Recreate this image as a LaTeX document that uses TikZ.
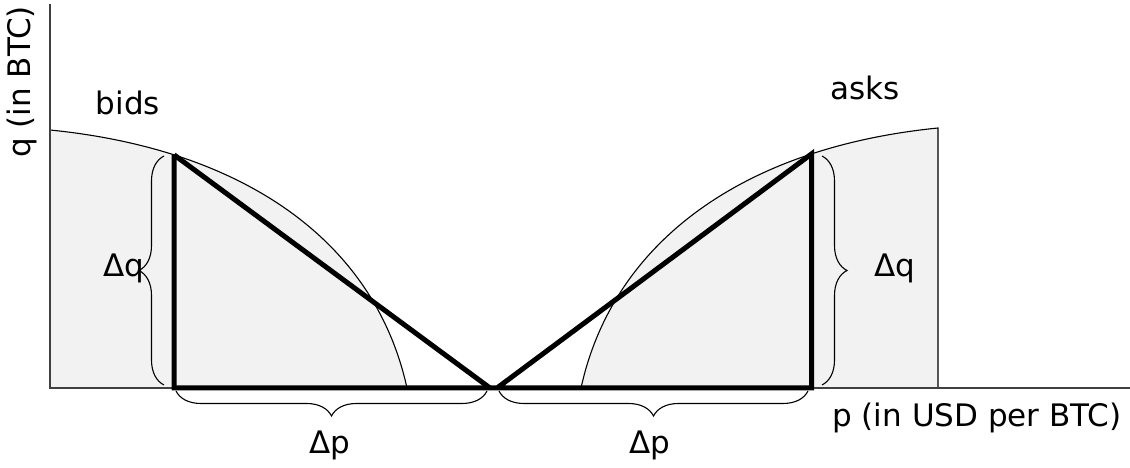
\documentclass[tikz,border=0pt]{standalone}
\usepackage{fontspec}
\setmainfont{DejaVu Sans}
\usetikzlibrary{decorations.pathreplacing}

\begin{document}
\begin{tikzpicture}
 [x=1pt,y=1pt,
  label node/.style={inner sep=0pt,font=\fontsize{31}{37}\selectfont},
  order area/.style={fill=black!5},
  thin line/.style={line width=1.1pt},
  side line/.style={line width=5pt,line join=miter},
  curly/.style={decorate,decoration={brace,amplitude=25pt},line width=1.1pt}]

\useasboundingbox (0,0) rectangle (1130,468);

% shaded order book areas
\fill[order area] (50,338) .. controls (240,319) and (374,230) .. (407,80) -- (50,80) -- cycle;
\fill[order area] (938,340) .. controls (748,321) and (614,230) .. (581,80) -- (938,80) -- cycle;
\draw[thin line] (50,338) .. controls (240,319) and (374,230) .. (407,80)
  coordinate[pos=0.235] (bid top);
\draw[thin line] (938,80) -- (938,340) .. controls (748,321) and (614,230) .. (581,80)
  coordinate[pos=0.24] (ask top);

% axes
\coordinate (origin) at (50,80);
\coordinate (q end) at (50,464);
\coordinate (p end) at (1130,80);
\draw[thin line,black!75] (q end) -- (origin) -- (p end);

% triangles
\coordinate (bid foot) at (bid top |- origin);
\coordinate (mid left) at (490,80);
\coordinate (mid right) at (497,80);
\coordinate (ask foot) at (ask top |- origin);

\draw[side line] (bid top) -- (bid foot) -- (ask foot) -- (ask top) -- (mid right);
\draw[side line] (bid top) -- (mid left);

% braces
\draw[curly] (164,83) -- (164,312);
\draw[curly] (822,312) -- (822,83);
\draw[curly] (487,77) -- (176,77);
\draw[curly] (808,77) -- (499,77);

% labels
\node[label node] (q axis) [rotate=90] at (22,386) {q (in BTC)};
\node[label node] (p axis) at (977,50) {p (in USD per BTC)};
\node[label node] (bids) at (128,365) {bids};
\node[label node] (asks) at (865,380) {asks};
\node[label node] (dq left) at (124,200) {Δq};
\node[label node] (dq right) at (895,200) {Δq};
\node[label node] (dp left) at (330,23) {Δp};
\node[label node] (dp right) at (650,23) {Δp};

\end{tikzpicture}
\end{document}
